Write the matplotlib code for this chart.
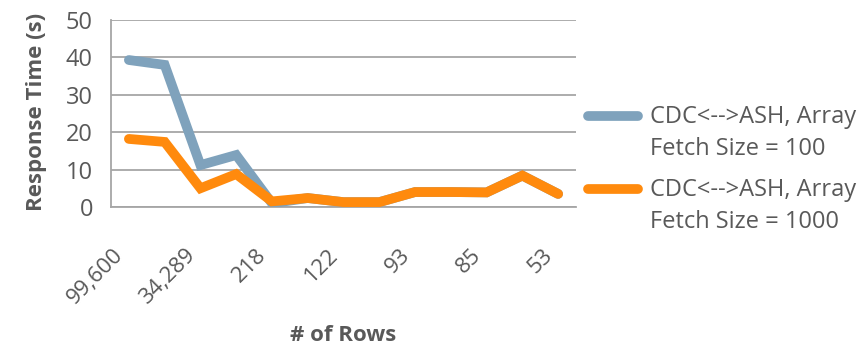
import matplotlib
matplotlib.use("Agg")
import matplotlib.pyplot as plt
from matplotlib.lines import Line2D
from matplotlib.transforms import ScaledTranslation
import numpy as np

# Category labels (only every other category carries a visible label)
row_labels = ["99,600", "", "34,289", "", "218", "", "122", "", "93", "", "85", "", "53"]

# Response times in seconds
fetch_100 = [39.3, 38.0, 11.2, 13.9, 1.0, 2.4, 1.3, 1.3, 4.0, 4.0, 3.9, 8.4, 3.5]
fetch_1000 = [18.2, 17.4, 5.0, 8.8, 1.5, 2.4, 1.3, 1.3, 4.0, 4.0, 3.9, 8.4, 3.5]

series_names = [("CDC<-->ASH, Array", "Fetch Size = 100"),
                ("CDC<-->ASH, Array", "Fetch Size = 1000")]
series_colors = ["#7FA2BC", "#FF8A0D"]

plt.rcParams["font.family"] = ["Open Sans", "DejaVu Sans"]
text_color = "#595959"
grid_color = "#A6A6A6"

W, H = 858, 346
fig = plt.figure(figsize=(W / 100, H / 100), dpi=100)
ax = fig.add_axes([111 / W, 1 - 207 / H, 465 / W, 187 / H])

x = np.arange(len(row_labels))
for vals, col, z in [(fetch_100, series_colors[0], 3), (fetch_1000, series_colors[1], 4)]:
    ax.plot(x, vals, color=col, lw=7, solid_capstyle="round",
            solid_joinstyle="miter", zorder=z)

ax.set_xlim(-0.5, len(row_labels) - 0.5)
ax.set_ylim(0, 50)
ax.set_yticks([0, 10, 20, 30, 40, 50])
ax.yaxis.grid(True, color=grid_color, lw=1.3)
ax.set_axisbelow(True)

for side in ["top", "right"]:
    ax.spines[side].set_visible(False)
for side in ["left", "bottom"]:
    ax.spines[side].set_color(grid_color)
    ax.spines[side].set_linewidth(1.3)

ax.set_xticks(x)
ax.set_xticklabels(row_labels, rotation=45, ha="right", rotation_mode="anchor")
ax.tick_params(axis="x", length=0, labelsize=16, colors=text_color, pad=27)
ax.tick_params(axis="y", length=0, labelsize=17, colors=text_color, pad=13)
shift = ScaledTranslation(-0.16, 0, fig.dpi_scale_trans)
for lab in ax.get_xticklabels():
    lab.set_transform(lab.get_transform() + shift)

ax.set_ylabel("Response Time (s)", fontsize=16, fontweight="bold", color=text_color)
ax.yaxis.set_label_coords(-0.138, 0.51)
ax.set_xlabel("# of Rows", fontsize=16, fontweight="bold", color=text_color)
ax.xaxis.set_label_coords(0.5, -0.632)

# Legend: swatch aligned with the first line of each two-line entry
for i, ((line1, line2), col) in enumerate(zip(series_names, series_colors)):
    y0 = 116 + i * 73
    fig.add_artist(Line2D([588 / W, 638 / W], [1 - y0 / H, 1 - y0 / H],
                          color=col, lw=7, solid_capstyle="round",
                          transform=fig.transFigure))
    fig.text(650 / W, 1 - (y0 + 1) / H, line1, fontsize=17, color=text_color,
             va="center", ha="left")
    fig.text(650 / W, 1 - (y0 + 33) / H, line2, fontsize=17, color=text_color,
             va="center", ha="left")

fig.savefig("out.png", dpi=100)
